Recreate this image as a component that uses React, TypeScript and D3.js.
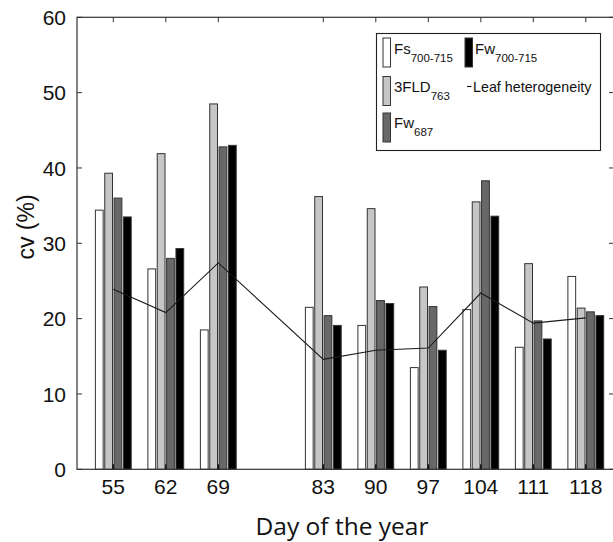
import * as d3 from "d3";

const days = [55, 62, 69, 83, 90, 97, 104, 111, 118];
const fs700715 = [34.4, 26.6, 18.5, 21.5, 19.1, 13.5, 21.2, 16.2, 25.6];
const fld763 = [39.3, 41.9, 48.5, 36.2, 34.6, 24.2, 35.5, 27.3, 21.4];
const fw687 = [36.0, 28.0, 42.8, 20.4, 22.4, 21.6, 38.3, 19.7, 20.9];
const fw700715 = [33.5, 29.3, 43.0, 19.1, 22.0, 15.8, 33.6, 17.3, 20.4];
const leafHeterogeneity = [23.9, 20.8, 27.4, 14.6, 15.8, 16.1, 23.4, 19.4, 20.1];
const yTicks = [0, 10, 20, 30, 40, 50, 60];

const SERIES = [
  { key: "fs", values: fs700715, fill: "#ffffff" },
  { key: "fld", values: fld763, fill: "#c6c6c6" },
  { key: "fw687", values: fw687, fill: "#686868" },
  { key: "fw", values: fw700715, fill: "#000000" },
];

const W = 613;
const H = 542;
const left = 77;
const right = 614;
const top = 17.3;
const bottom = 469.3;
const axisColor = "#333";
const font = "'Liberation Sans', Arial, sans-serif";

export default function App() {
  const x = d3.scaleLinear().domain([50.16, 121.76]).range([left, right]);
  const y = d3.scaleLinear().domain([0, 60]).range([bottom, top]);
  const offset = d3
    .scaleBand<string>()
    .domain(SERIES.map((s) => s.key))
    .range([-19.5, 19.5])
    .padding(0.17);

  const line = d3
    .line<number>()
    .x((_, i) => x(days[i]))
    .y((d) => y(d));

  return (
    <div style={{ position: "absolute", left: 0, top: 0 }}>
      <svg width={W} height={H} style={{ display: "block" }}>
        <rect x={0} y={0} width={W} height={H} fill="#fff" />

        {SERIES.map((s) =>
          s.values.map((v, i) => (
            <rect
              key={s.key + i}
              x={x(days[i]) + (offset(s.key) ?? 0)}
              y={y(v)}
              width={offset.bandwidth()}
              height={y(0) - y(v)}
              fill={s.fill}
              stroke="#333"
              strokeWidth={1}
            />
          ))
        )}

        <path d={line(leafHeterogeneity) ?? ""} fill="none" stroke="#1a1a1a" strokeWidth={1.1} />

        {/* frame */}
        <rect x={left} y={top} width={right - left} height={bottom - top} fill="none" stroke={axisColor} strokeWidth={1.2} />

        {/* y ticks, left and right, pointing inward */}
        {yTicks.map((t) => (
          <g key={"y" + t}>
            <line x1={left} x2={left + 5} y1={y(t)} y2={y(t)} stroke={axisColor} />
            <line x1={right - 5} x2={right} y1={y(t)} y2={y(t)} stroke={axisColor} />
            <text
              x={66}
              y={y(t)}
              dy="0.36em"
              textAnchor="end"
              fontSize={21}
              fontFamily={font}
              fill="#111"
            >
              {t}
            </text>
          </g>
        ))}

        {/* x ticks, bottom and top */}
        {days.map((d) => (
          <g key={"x" + d}>
            <line x1={x(d)} x2={x(d)} y1={bottom} y2={bottom - 5} stroke="#000" strokeWidth={1.2} />
            <line x1={x(d)} x2={x(d)} y1={top} y2={top + 5} stroke={axisColor} />
            <text x={x(d)} y={494} textAnchor="middle" fontSize={21} fontFamily={font} fill="#111">
              {d}
            </text>
          </g>
        ))}

        <text x={342} y={535} textAnchor="middle" fontSize={24.5} fontFamily="'Open Sans', sans-serif" fill="#111">
          Day of the year
        </text>
        <text
          transform="translate(34,227) rotate(-90)"
          textAnchor="middle"
          fontSize={23}
          fontFamily={font}
          fill="#111"
        >
          cv (%)
        </text>

        {/* legend */}
        <g fontFamily={font} fill="#111">
          <rect x={376.5} y={33.5} width={224} height={117} fill="#fff" stroke="#222" strokeWidth={1.1} />

          <rect x={383} y={38} width={7.5} height={29} fill="#fff" stroke="#333" />
          <text x={394} y={54} fontSize={15}>
            Fs<tspan dy={8} fontSize={11.5}>700-715</tspan>
          </text>

          <rect x={465} y={38} width={7.5} height={29} fill="#000" stroke="#333" />
          <text x={475} y={54} fontSize={15}>
            Fw<tspan dy={8} fontSize={11.5}>700-715</tspan>
          </text>

          <rect x={383} y={76.5} width={7.5} height={29} fill="#c6c6c6" stroke="#333" />
          <text x={394} y={92} fontSize={15}>
            3FLD<tspan dy={8} fontSize={11.5}>763</tspan>
          </text>

          <line x1={467} x2={471.5} y1={86.5} y2={86.5} stroke="#111" strokeWidth={1.1} />
          <text x={473} y={92} fontSize={14.3}>
            Leaf heterogeneity
          </text>

          <rect x={383} y={113} width={7.5} height={29} fill="#686868" stroke="#333" />
          <text x={394} y={128} fontSize={15}>
            Fw<tspan dy={8} fontSize={11.5}>687</tspan>
          </text>
        </g>
      </svg>
    </div>
  );
}
